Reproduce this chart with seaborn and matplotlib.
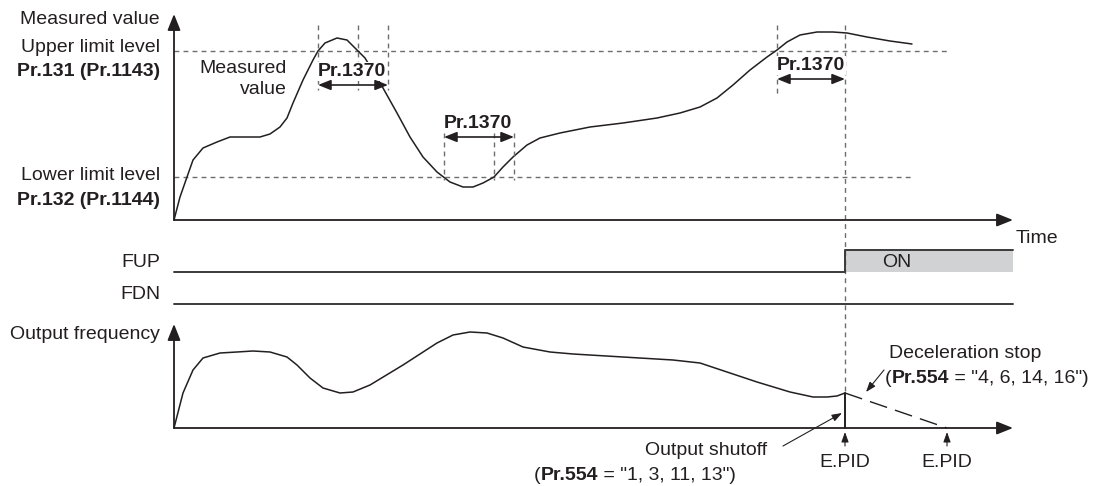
import matplotlib
matplotlib.use("Agg")  # no display
import matplotlib.pyplot as plt
from matplotlib.patches import Rectangle
import seaborn as sns

# --- data (time axis in chart units, values above each baseline) ---
meas_t = [174, 180, 187, 193, 203, 217, 230, 243, 260, 270, 280, 287, 293, 303, 313, 318,
          325, 337, 347, 358, 365, 383, 397, 410, 423, 437, 450, 463, 473, 483, 494, 503,
          513, 527, 540, 560, 590, 623, 657, 680, 700, 717, 733, 750, 767, 777, 787, 800,
          817, 833, 847, 867, 890, 912]
meas_v = [0, 23, 43, 60, 72, 78, 83, 83, 83, 86, 93, 102, 117, 140, 160, 169,
          177, 182, 180, 169, 162, 132, 107, 83, 63, 48, 38, 33, 33, 37, 43, 53,
          63, 75, 82, 87, 93, 97, 102, 107, 113, 122, 135, 150, 163, 170, 178, 185,
          188, 188, 187, 183, 179, 176]
upper_limit = 169
lower_limit = 43

freq_t = [174, 183, 193, 203, 220, 237, 253, 270, 287, 297, 310, 323, 340, 353, 370, 403,
          437, 453, 470, 487, 503, 523, 550, 573, 623, 673, 700, 727, 757, 790, 813, 827,
          837, 845]
freq_v = [0, 35, 58, 70, 75, 76, 77, 76, 71, 63, 50, 40, 35, 36, 43, 63,
          85, 93, 96, 95, 90, 81, 76, 74, 71, 68, 65, 56, 46, 36, 31, 31,
          32, 35]

# Pr.1370 detection windows (start, end) and the time the value returned inside limits
pr1370_start = [318, 444, 777]
pr1370_end = [388, 514, 845]
return_t = [358, 494]

trip_t = 845        # E.PID (output shutoff) / FUP turns ON
decel_end_t = 947   # E.PID after deceleration stop
signal_end_t = 1013

# --- layout ---
TOP_BASE = 220
FREQ_BASE = 428
FUP_Y = 272
FDN_Y = 304
ON_H = 22
X0 = 174
INK = "#231f20"
GRID = "#6d6e70"
FS = 14

sns.set_theme(style="white")
plt.rcParams["font.family"] = ["Liberation Sans", "DejaVu Sans"]

fig = plt.figure(figsize=(11.02, 4.86), dpi=100)
ax = fig.add_axes([0, 0, 1, 1])
ax.set_xlim(0, 1102)
ax.set_ylim(486, 0)
ax.set_axis_off()

gray_dash = dict(color=GRID, lw=1.0, linestyle=(0, (3.5, 3)))

# limit levels
ax.plot([X0, 950], [TOP_BASE - upper_limit] * 2, **gray_dash)
ax.plot([X0, 912], [TOP_BASE - lower_limit] * 2, **gray_dash)

# measured value curve
sns.lineplot(x=meas_t, y=[TOP_BASE - v for v in meas_v], sort=False, estimator=None,
             ax=ax, color=INK, lw=1.1)

# Pr.1370 windows
win_top = [25, 133, 25]
win_bot = [90, 180, 95]
arrow_y = [85, 137, 79]
for i, (s, e) in enumerate(zip(pr1370_start, pr1370_end)):
    xs = [s, e] + ([return_t[i]] if i < len(return_t) else [])
    for x in xs:
        bot = FREQ_BASE - freq_v[-1] if x == trip_t else win_bot[i]
        ax.plot([x, x], [win_top[i], bot], **gray_dash)
    ax.text(s, arrow_y[i] - 5, "Pr.1370", fontsize=FS, fontweight="bold", color=INK,
            ha="left", va="bottom", zorder=5,
            bbox=dict(facecolor="white", edgecolor="none", pad=0.5))
    ax.annotate("", xy=(e, arrow_y[i]), xytext=(s, arrow_y[i]), zorder=6,
                arrowprops=dict(arrowstyle="<|-|>,head_length=0.55,head_width=0.22",
                                color=INK, lw=1.2, shrinkA=0, shrinkB=0, mutation_scale=14))

# output frequency curve, shutoff and deceleration
sns.lineplot(x=freq_t, y=[FREQ_BASE - v for v in freq_v], sort=False, estimator=None,
             ax=ax, color=INK, lw=1.1)
sns.lineplot(x=[trip_t, trip_t], y=[FREQ_BASE - freq_v[-1], FREQ_BASE], sort=False,
             estimator=None, ax=ax, color=INK, lw=1.4)
sns.lineplot(x=[trip_t, decel_end_t], y=[FREQ_BASE - freq_v[-1], FREQ_BASE], sort=False,
             estimator=None, ax=ax, color=INK, lw=1.0, linestyle=(0, (13, 6)))

# axes with arrows
axis_arrow = dict(arrowstyle="-|>,head_length=0.7,head_width=0.28", color=INK, lw=1.3,
                  shrinkA=0, shrinkB=0, mutation_scale=14)
ax.annotate("", xy=(X0, 14), xytext=(X0, TOP_BASE), arrowprops=axis_arrow)
ax.annotate("", xy=(1013, TOP_BASE), xytext=(X0, TOP_BASE), arrowprops=axis_arrow)
ax.annotate("", xy=(X0, 324), xytext=(X0, FREQ_BASE), arrowprops=axis_arrow)
ax.annotate("", xy=(1013, FREQ_BASE), xytext=(X0, FREQ_BASE), arrowprops=axis_arrow)

# FUP / FDN signals
ax.add_patch(Rectangle((trip_t, FUP_Y - ON_H), signal_end_t - trip_t, ON_H,
                       facecolor="#d1d2d4", edgecolor="none"))
ax.plot([X0, trip_t, trip_t, signal_end_t], [FUP_Y, FUP_Y, FUP_Y - ON_H, FUP_Y - ON_H],
        color="#3a3a3a", lw=1.4)
ax.plot([X0, signal_end_t], [FDN_Y, FDN_Y], color="#3a3a3a", lw=1.4)
ax.text(897, FUP_Y - ON_H / 2 + 1, "ON", fontsize=FS, color=INK, ha="center", va="center")

# left labels
left = dict(fontsize=FS, color=INK, ha="right", va="center")
ax.text(160, 19, "Measured value", **left)
ax.text(160, 48, "Upper limit level", **left)
ax.text(160, 72, "Pr.131 (Pr.1143)", fontweight="bold", **left)
ax.text(160, 175, "Lower limit level", **left)
ax.text(160, 200, "Pr.132 (Pr.1144)", fontweight="bold", **left)
ax.text(160, 262, "FUP", **left)
ax.text(160, 294, "FDN", **left)
ax.text(160, 334, "Output frequency", **left)
ax.text(287, 79, "Measured\nvalue", fontsize=FS, color=INK, ha="right", va="center",
        linespacing=1.25)
ax.text(1016, 238, "Time", fontsize=FS, color=INK, ha="left", va="center")

# E.PID markers
small_arrow = dict(arrowstyle="-|>,head_length=0.5,head_width=0.18", color=INK, lw=0.8,
                   shrinkA=0, shrinkB=0, mutation_scale=12)
for x in [trip_t, decel_end_t]:
    ax.annotate("", xy=(x, FREQ_BASE + 4), xytext=(x, FREQ_BASE + 18), arrowprops=small_arrow)
    ax.text(x, 462, "E.PID", fontsize=FS, color=INK, ha="center", va="center")


def write_mixed(x, y, rest):
    # "(Pr.554 = ...)" with the parameter name in bold
    parts = [("Pr.554", "bold"), (rest, "normal")]
    t = ax.text(x, y, "(", fontsize=FS, color=INK, ha="left", va="baseline")
    for txt, w in parts:
        t = ax.annotate(txt, xy=(1, 0), xycoords=t, fontsize=FS, color=INK,
                        fontweight=w, ha="left", va="bottom")


# output shutoff note
ax.text(767, 450, "Output shutoff", fontsize=FS, color=INK, ha="right", va="center")
write_mixed(534, 480, ' = "1, 3, 11, 13")')
ax.annotate("", xy=(842, 413), xytext=(783, 446), arrowprops=small_arrow)

# deceleration stop note
ax.text(889, 353, "Deceleration stop", fontsize=FS, color=INK, ha="left", va="center")
write_mixed(885, 383, ' = "4, 6, 14, 16")')
ax.annotate("", xy=(866, 392), xytext=(884, 370), arrowprops=small_arrow)

fig.savefig("out.png", dpi=100, facecolor="white")
